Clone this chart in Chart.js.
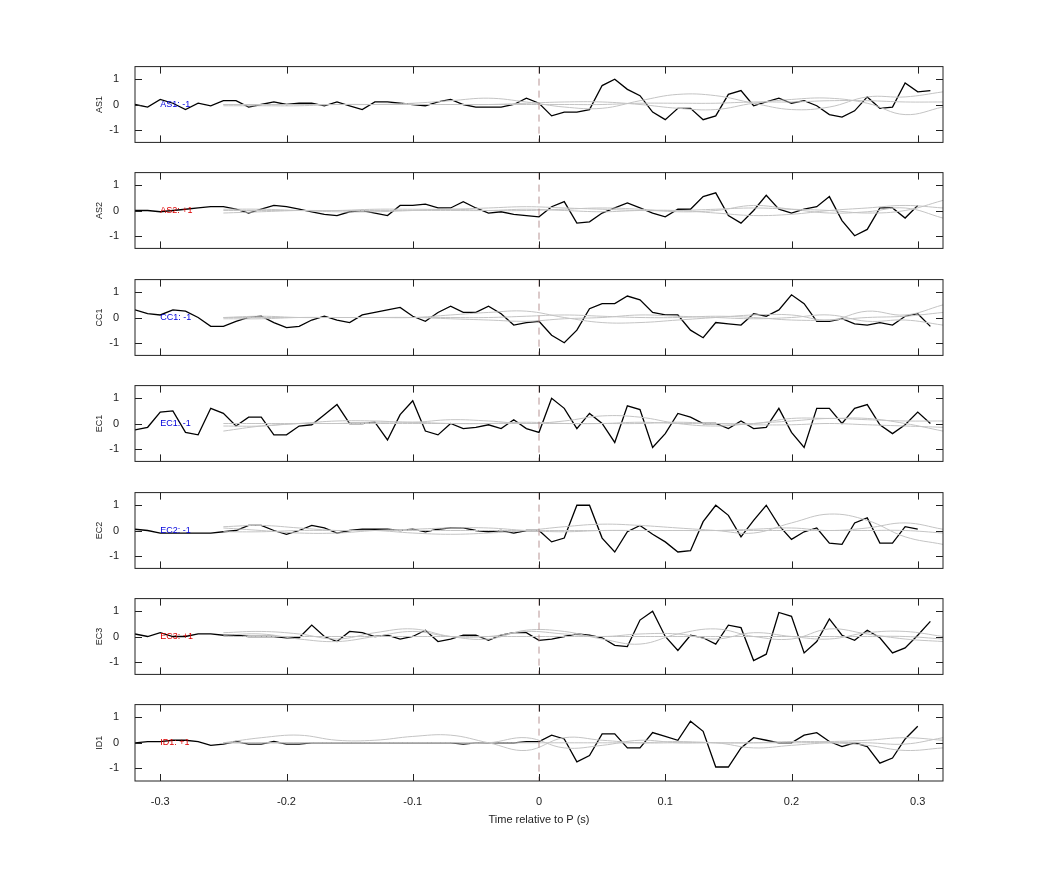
<!DOCTYPE html>
<html>
<head>
<meta charset="utf-8">
<script src="https://cdn.jsdelivr.net/npm/chart.js@4"></script>
<style>
  body { margin: 0; background: #fff; }
  #wrap { position: relative; width: 1042px; height: 875px; }
  .panel { position: absolute; left: 90px; width: 863px; }
</style>
</head>
<body>
<div id="wrap"></div>
<script>
// channel names and polarity shown inside each panel
const channels = ["AS1", "AS2", "CC1", "EC1", "EC2", "EC3", "ID1"]
const polarity = [-1, 1, -1, -1, -1, 1, 1]

// black trace: samples every 0.01 s starting at -0.32 s
const blackStart = -0.32
const blackStep = 0.01
const traceAS1 = [0.0,-0.1,0.2,0.05,-0.2,0.05,-0.05,0.15,0.15,-0.1,0.0,0.1,0.0,0.05,0.05,-0.05,0.1,-0.05,-0.2,0.1,0.1,0.05,0.0,-0.05,0.1,0.2,0.0,-0.1,-0.1,-0.1,0.0,0.25,
  0.05,-0.45,-0.3,-0.3,-0.2,0.75,1.0,0.6,0.35,-0.3,-0.6,-0.15,-0.15,-0.6,-0.45,0.4,0.55,-0.05,0.1,0.25,0.05,0.15,-0.05,-0.4,-0.5,-0.25,0.3,-0.15,-0.1,0.85,0.5,0.55]
const traceAS2 = [0.0,0.0,-0.05,0.0,0.05,0.1,0.15,0.15,0.05,-0.1,0.05,0.2,0.15,0.05,-0.05,-0.15,-0.2,-0.05,0.0,-0.1,-0.2,0.2,0.2,0.25,0.1,0.1,0.35,0.1,-0.1,-0.05,-0.15,-0.2,
  -0.25,0.15,0.35,-0.5,-0.45,-0.1,0.1,0.3,0.1,-0.1,-0.25,0.05,0.05,0.55,0.7,-0.2,-0.5,0.0,0.6,0.05,-0.1,0.05,0.15,0.55,-0.4,-1.0,-0.75,0.1,0.1,-0.3,0.2]
const traceCC1 = [0.3,0.15,0.1,0.3,0.25,0.0,-0.35,-0.35,-0.15,0.0,0.05,-0.2,-0.4,-0.35,-0.1,0.05,-0.1,-0.2,0.1,0.2,0.3,0.4,0.05,-0.15,0.2,0.45,0.2,0.2,0.45,0.15,-0.3,-0.2,
  -0.15,-0.7,-1.0,-0.5,0.35,0.55,0.55,0.85,0.7,0.2,0.1,0.1,-0.5,-0.8,-0.2,-0.25,-0.3,0.15,0.05,0.3,0.9,0.55,-0.15,-0.15,-0.05,-0.25,-0.3,-0.2,-0.3,0.05,0.15,-0.35]
const traceEC1 = [-0.25,-0.15,0.45,0.5,-0.35,-0.45,0.6,0.4,-0.1,0.25,0.25,-0.45,-0.45,-0.1,-0.05,0.35,0.75,0.0,0.0,0.05,-0.65,0.35,0.9,-0.3,-0.45,0.0,-0.2,-0.15,-0.05,-0.2,0.15,-0.2,
  -0.35,1.0,0.6,-0.2,0.4,0.0,-0.75,0.7,0.55,-0.95,-0.4,0.4,0.25,0.0,0.0,-0.2,0.1,-0.2,-0.15,0.6,-0.35,-0.95,0.6,0.6,0.0,0.6,0.75,-0.05,-0.4,-0.05,0.45,0.0]
const traceEC2 = [0.05,0.0,-0.1,-0.1,-0.1,-0.1,-0.1,-0.05,0.0,0.2,0.2,0.0,-0.15,0.0,0.2,0.1,-0.1,0.0,0.05,0.05,0.05,0.0,0.05,-0.05,0.05,0.1,0.1,0.0,-0.05,0.0,-0.1,0.0,
  0.0,-0.45,-0.3,1.0,1.0,-0.3,-0.85,-0.05,0.2,-0.15,-0.45,-0.85,-0.8,0.35,1.0,0.6,-0.25,0.4,1.0,0.2,-0.35,-0.05,0.1,-0.5,-0.55,0.3,0.5,-0.5,-0.5,0.15,0.05]
const traceEC3 = [0.1,0.0,0.15,0.0,0.0,0.1,0.1,0.05,0.05,0.0,0.0,0.0,-0.05,-0.05,0.45,0.0,-0.2,0.2,0.15,0.0,0.05,-0.1,0.0,0.25,-0.2,-0.1,0.05,0.05,-0.15,0.05,0.15,0.15,
  -0.15,-0.1,0.0,0.1,0.05,-0.05,-0.35,-0.4,0.65,1.0,0.0,-0.55,0.05,-0.05,-0.3,0.45,0.35,-0.95,-0.7,0.95,0.8,-0.65,-0.2,0.7,0.05,-0.15,0.25,-0.05,-0.65,-0.45,0.05,0.6]
const traceID1 = [0.0,0.05,0.05,0.1,0.1,0.05,-0.1,-0.05,0.05,-0.05,-0.05,0.05,-0.05,-0.05,0.0,0.0,0.0,0.0,0.0,0.0,0.0,0.0,0.0,0.0,0.0,0.0,-0.05,0.0,0.0,0.0,0.0,0.05,
  0.05,0.3,0.15,-0.75,-0.5,0.35,0.35,-0.2,-0.2,0.4,0.25,0.1,0.85,0.45,-0.95,-0.95,-0.2,0.2,0.1,0.0,0.0,0.3,0.4,0.05,-0.15,0.0,-0.15,-0.8,-0.6,0.15,0.65]
const traces = [traceAS1, traceAS2, traceCC1, traceEC1, traceEC2, traceEC3, traceID1]

// gray reference traces: samples every 0.03 s starting at -0.25 s
const grayStart = -0.25
const grayStep = 0.03
const grayAS1 = [
  [-0.05,-0.05,-0.05,0,0,0,0,0,0,0,0,0.05,0.05,0.05,0.1,0.1,0.15,0.15,0.1,0.1],
  [0,0,0,0,0,0.05,0.15,0.25,0.1,-0.1,-0.15,0.15,0.4,0.35,0.05,-0.2,-0.1,0.3,0.3,0.5],
  [0,0,0,0,0,0,0,0,0.05,0.1,0.1,0,-0.15,-0.2,0.05,0.2,0.25,0.05,-0.4,-0.1],
]
const grayAS2 = [
  [-0.1,-0.05,0,0,0.05,0.05,0.05,0.1,0.15,0.1,0.05,0,0,0.05,0.1,0.05,0,-0.1,0,0.4],
  [0,0,0,0,0,0,0,0,0.05,0,-0.05,0,0,-0.1,-0.2,-0.15,0,0.1,0.2,0.1],
  [0.05,0.05,0,-0.05,-0.05,0,0.05,0,0,0.05,0.1,0.05,-0.05,0,0.2,0.05,-0.1,-0.05,0.1,-0.3],
]
const grayCC1 = [
  [0,0,0,0,0,0,0.1,0.2,0.25,0,-0.2,-0.2,-0.1,0,0.1,0.1,-0.1,0.25,0.1,0.5],
  [0,0.05,0,0,0,0,-0.05,-0.1,-0.15,-0.05,0,0.1,0.05,0,-0.05,0,0.1,-0.15,-0.1,-0.3],
  [-0.05,-0.05,0,0,0,0,0,0,0.05,0.1,0.05,0,0,0.05,0,-0.1,-0.1,0,0.05,0.2],
]
const grayEC1 = [
  [-0.3,-0.1,0,0.1,0.1,0.05,0.15,0.1,0,0.1,0.3,0.25,0,-0.1,0,0.1,0.2,0.15,0.1,0.1],
  [-0.1,-0.1,0,0,0.05,0.05,0,0,0.05,0,0,0,0.05,0,0,0.2,0.2,0.2,0,-0.3],
  [0,0,0,0,0,0,0,0,0,0,0,0.05,0,0,-0.05,-0.05,0,-0.05,-0.1,-0.15],
]
const grayEC2 = [
  [0.15,0.2,0.1,0,0,-0.1,-0.15,-0.1,0,0.15,0.25,0.2,0.1,0,-0.1,0.3,0.65,0.4,-0.25,-0.55],
  [0.1,0,-0.1,-0.1,0,0.05,0.1,0.1,0,-0.05,0,0,0,0,0.05,0.1,0,0.1,0.3,0.05],
  [-0.05,-0.05,0,0,0,0,0,0,0,0,0,0,0,0,0,0,0,0,0,-0.1],
]
const grayEC3 = [
  [0.15,0.2,0.1,-0.1,0.15,0.3,0,-0.1,0.25,0.2,-0.1,-0.3,0.1,0.3,0,-0.1,0.3,0.1,-0.1,-0.2],
  [0.05,0.1,-0.1,-0.2,0,0.2,0,0,0.2,0.1,0,0.1,0.1,-0.1,0.15,0,-0.1,0.15,0.2,0],
  [0,0,0,0,0,0,0,0,0,0,0,0,0,0,0,0,0,0,0,-0.1],
]
const grayID1 = [
  [0,0.2,0.3,0.1,0.1,0.25,0.3,0,-0.3,0.2,0.1,0,0,0,-0.2,-0.1,0,0,-0.05,0.2],
  [0,0,0,0,0,0,0,0,0.2,-0.2,-0.1,0.1,0,0,0,0,0,-0.1,-0.3,-0.2],
  [0,0,0,0,0,0,0,0,0,0,0,0,0.05,0,0,0.05,0.05,0.1,0.2,0.1],
]
const grays = [grayAS1, grayAS2, grayCC1, grayEC1, grayEC2, grayEC3, grayID1]

// axis ticks
const xTicks = [-0.3, -0.2, -0.1, 0, 0.1, 0.2, 0.3]
const yTicks = [-1, 0, 1]

const panelTops = [66, 172, 279, 385, 492, 598, 705]
const panelHeight = 76
const font = "'Liberation Sans', Arial, sans-serif"

// box, inward ticks, zero line and channel label
const decorPlugin = {
  id: "decor",
  afterDatasetsDraw(chart, args, opts) {
    const { ctx, chartArea: a, scales } = chart
    ctx.save()
    // dashed line at P arrival
    const x0 = scales.x.getPixelForValue(0)
    ctx.strokeStyle = "rgba(170,130,130,0.85)"
    ctx.lineWidth = 1
    ctx.setLineDash([7, 5])
    ctx.beginPath(); ctx.moveTo(x0, a.top); ctx.lineTo(x0, a.bottom); ctx.stroke()
    ctx.setLineDash([])
    // label
    ctx.font = "9px " + font
    ctx.fillStyle = opts.pol < 0 ? "#0000dd" : "#dd0000"
    ctx.textBaseline = "middle"
    ctx.fillText(opts.name + ": " + (opts.pol < 0 ? "-1" : "+1"), scales.x.getPixelForValue(-0.3), scales.y.getPixelForValue(0))
    // box and ticks
    ctx.strokeStyle = "#222"
    ctx.lineWidth = 1
    ctx.strokeRect(a.left, a.top, a.right - a.left, a.bottom - a.top)
    ctx.beginPath()
    xTicks.forEach((t) => {
      const px = Math.round(scales.x.getPixelForValue(t)) + 0.5
      ctx.moveTo(px, a.bottom); ctx.lineTo(px, a.bottom - 7)
      ctx.moveTo(px, a.top); ctx.lineTo(px, a.top + 7)
    })
    yTicks.forEach((t) => {
      const py = Math.round(scales.y.getPixelForValue(t)) + 0.5
      ctx.moveTo(a.left, py); ctx.lineTo(a.left + 7, py)
      ctx.moveTo(a.right, py); ctx.lineTo(a.right - 7, py)
    })
    ctx.stroke()
    ctx.restore()
  },
}

const wrap = document.getElementById("wrap")
channels.forEach((name, i) => {
  const last = i === channels.length - 1
  const div = document.createElement("div")
  div.className = "panel"
  div.style.top = panelTops[i] - (last ? 15 : 14) + "px"
  div.style.height = panelHeight + (last ? 65 : 29) + "px"
  const canvas = document.createElement("canvas")
  div.appendChild(canvas)
  wrap.appendChild(div)

  const datasets = grays[i].map((g) => ({
    data: g.map((v, k) => ({ x: grayStart + k * grayStep, y: v })),
    borderColor: "#c4c4c4",
    borderWidth: 1,
    tension: 0.4,
    pointRadius: 0,
  }))
  datasets.push({
    data: traces[i].map((v, k) => ({ x: blackStart + k * blackStep, y: v })),
    borderColor: "#000",
    borderWidth: 1.3,
    pointRadius: 0,
  })

  new Chart(canvas, {
    type: "line",
    data: { datasets },
    plugins: [decorPlugin],
    options: {
      responsive: true,
      maintainAspectRatio: false,
      animation: false,
      layout: { padding: { top: 6, right: 10, bottom: last ? 0 : 5, left: 0 } },
      plugins: { legend: { display: false }, tooltip: { enabled: false }, decor: { name, pol: polarity[i] } },
      scales: {
        x: {
          type: "linear",
          min: -0.32,
          max: 0.32,
          display: last,
          grid: { display: false },
          border: { display: false },
          afterBuildTicks: (s) => { s.ticks = xTicks.map((v) => ({ value: v })) },
          afterFit: (s) => { s.height = last ? 50 : 0 },
          ticks: { color: "#222", font: { size: 11, family: font }, padding: 6, maxRotation: 0, callback: (v) => String(v) },
          title: { display: true, text: "Time relative to P (s)", color: "#222", font: { size: 11, family: font }, padding: { top: 6 } },
        },
        y: {
          min: -1.5,
          max: 1.5,
          grid: { display: false },
          border: { display: false },
          afterBuildTicks: (s) => { s.ticks = yTicks.map((v) => ({ value: v })) },
          afterFit: (s) => { s.width = 45 },
          ticks: { color: "#222", font: { size: 11, family: font }, padding: 8, autoSkip: false },
          title: { display: true, text: name, color: "#222", font: { size: 9, family: font }, padding: 4 },
        },
      },
    },
  })
})
</script>
</body>
</html>
